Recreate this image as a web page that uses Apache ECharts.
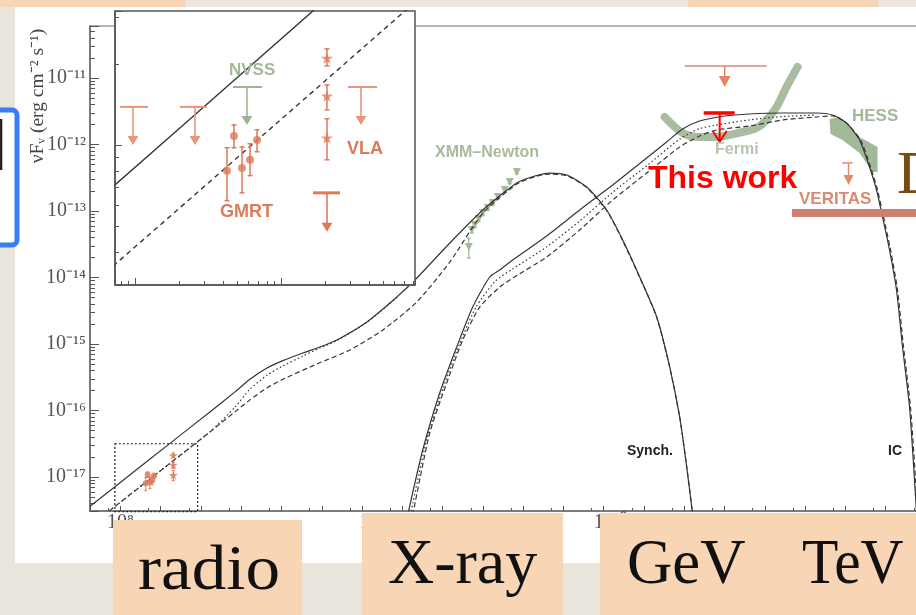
<!DOCTYPE html>
<html>
<head>
<meta charset="utf-8">
<script src="https://cdn.jsdelivr.net/npm/echarts@6/dist/echarts.min.js"></script>
<style>
  html, body { margin: 0; padding: 0; background: #e9e5dc; }
  #wrap { position: relative; width: 916px; height: 615px; overflow: hidden; background: #e9e5dc; }
  #panel { position: absolute; left: 15px; top: 7px; width: 901px; height: 556px; background: #ffffff; }
  #chart { position: absolute; left: 0; top: 0; width: 916px; height: 615px; }
</style>
</head>
<body>
<div id="wrap"><div id="panel"></div><div id="chart"></div></div>
<script>
// All coordinates are log10 values: x = log10(nu / Hz), y = log10(nuFnu / erg cm^-2 s^-1)

// axis ranges
const mainNuRange   = [7.246, 28.0];
const mainFluxRange = [-17.511, -10.218];
const zoomNuRange   = [7.863, 9.918];
const zoomFluxRange = [-17.52, -16.50];

// tick labels
const nuLabelDecades   = [8, 14, 20, 26];
const fluxLabelDecades = [-17, -16, -15, -14, -13, -12, -11];

// model curves: synchrotron and inverse-Compton components of three models
const synchSolid = [[7.246,-17.441],[8.241,-16.967],[9.231,-16.494],[10.223,-16.021],[10.844,-15.72],[11.216,-15.53],[11.638,-15.36],[12.035,-15.25],[12.531,-15.135],[12.953,-15.045],[13.375,-14.94],[14.119,-14.669],[14.864,-14.293],[15.36,-14.008],[16.179,-13.481],[16.998,-12.985],[17.841,-12.579],[18.288,-12.474],[18.66,-12.429],[19.082,-12.459],[19.578,-12.639],[20.074,-12.985],[20.471,-13.436],[20.893,-13.992],[21.315,-14.594],[21.638,-15.346],[21.886,-16.098],[22.06,-16.85],[22.209,-17.571]];
const synchDashed = [[7.246,-17.736],[8.241,-17.264],[9.231,-16.794],[10.223,-16.322],[10.844,-16.02],[11.216,-15.84],[11.638,-15.66],[12.035,-15.53],[12.878,-15.301],[13.697,-15.09],[14.516,-14.789],[15.36,-14.368],[16.179,-13.767],[16.998,-13.03],[17.841,-12.594],[18.288,-12.484],[18.66,-12.444],[19.082,-12.47],[19.578,-12.65],[20.074,-12.995],[20.471,-13.446],[20.893,-14.0],[21.315,-14.6],[21.638,-15.35],[21.886,-16.1],[22.06,-16.85],[22.209,-17.571]];
const synchDotted = [[7.246,-17.736],[8.241,-17.264],[9.231,-16.794],[10.223,-16.322],[10.844,-15.95],[11.216,-15.68],[11.638,-15.47],[12.035,-15.33],[12.531,-15.18],[12.953,-15.06],[13.375,-14.95],[14.119,-14.675],[14.864,-14.30]];
const icSolid = [[15.134,-17.571],[15.506,-16.594],[15.928,-15.737],[16.35,-15.045],[16.747,-14.444],[17.169,-13.992],[17.417,-13.887],[17.739,-13.737],[18.583,-13.376],[19.402,-12.985],[20.221,-12.609],[21.065,-12.203],[21.561,-11.962],[21.958,-11.767],[22.38,-11.647],[23.0,-11.571],[23.62,-11.541],[24.439,-11.526],[25.283,-11.526],[25.68,-11.556],[26.027,-11.677],[26.35,-11.932],[26.598,-12.338],[26.772,-12.684],[26.921,-13.09],[27.094,-13.586],[27.268,-14.188],[27.417,-15.045],[27.591,-15.947],[27.715,-17.045],[27.789,-17.797]];
const icDashed = [[15.258,-17.571],[15.68,-16.338],[16.102,-15.586],[16.499,-14.94],[16.921,-14.444],[17.417,-14.143],[17.739,-14.008],[18.583,-13.692],[19.402,-13.286],[20.221,-12.835],[21.065,-12.429],[21.884,-12.038],[22.38,-11.872],[22.801,-11.782],[23.62,-11.722],[24.439,-11.632],[25.283,-11.586],[25.68,-11.571],[26.027,-11.677],[26.375,-11.932],[26.623,-12.338],[26.797,-12.684],[26.945,-13.09],[27.119,-13.586],[27.293,-14.188],[27.442,-15.045],[27.615,-15.947],[27.74,-17.045],[27.814,-17.797]];
const icDotted = [[15.2,-17.571],[15.6,-16.45],[16.02,-15.65],[16.42,-15.0],[16.83,-14.444],[17.3,-14.06],[17.739,-13.87],[18.583,-13.54],[19.402,-13.15],[20.221,-12.72],[21.065,-12.32],[21.884,-11.92],[22.38,-11.76],[23.62,-11.63],[24.439,-11.58],[25.283,-11.556]];

// XMM-Newton spectrum: [log nu, log nuFnu, low, high]
const xmmPoints = [[17.841,-12.414,-12.44,-12.39],[17.667,-12.564,-12.59,-12.54],[17.543,-12.684,-12.71,-12.66],[17.37,-12.789,-12.82,-12.76],[17.246,-12.88,-12.91,-12.85],[17.122,-12.955,-12.99,-12.92],[16.998,-13.03,-13.07,-12.99],[16.898,-13.12,-13.16,-13.08],[16.799,-13.211,-13.25,-13.17],[16.724,-13.286,-13.33,-13.24],[16.65,-13.541,-13.707,-13.406]];

// Fermi-LAT butterfly (lower envelope) and H.E.S.S. band
const fermiBand = [[21.512,-11.586],[21.96,-11.827],[22.38,-11.887],[22.801,-11.887],[23.447,-11.812],[23.794,-11.752],[24.042,-11.632],[24.29,-11.436],[24.538,-11.135],[24.811,-10.835]];
const hessBand = [[25.605,-11.617],[25.853,-11.586],[26.35,-11.887],[26.797,-12.038],[26.797,-12.414],[26.672,-12.414],[26.35,-12.128],[25.928,-11.932],[25.63,-11.842]];

// upper limits: [log nu centre, log nuFnu, log nu left, log nu right]
const gevUpperLimit      = [[23.003,-10.82,22.01,24.045]];
const thisWorkUpperLimit = [[22.878,-11.526,22.481,23.251]];
const veritasUpperLimit  = [[26.077,-12.278,25.918,26.179]];
const radioUpperLimits   = [[7.986,-16.857,7.897,8.089],[8.411,-16.857,8.308,8.493],[9.548,-16.783,9.459,9.658]];
const vlaDeepUpperLimit  = [[9.315,-17.177,9.219,9.404]];
const nvssUpperLimit     = [[8.767,-16.783,8.671,8.87]];

// radio detections: [log nu, log nuFnu, low, high]
const gmrtPoints = [[8.63,-17.095,-17.206,-17.009],[8.678,-16.965,-17.009,-16.924],[8.733,-17.084,-17.177,-17.006],[8.788,-17.054,-17.113,-16.994],[8.836,-16.98,-17.024,-16.942]];
const vlaPoints  = [[9.315,-16.675,-16.704,-16.641],[9.315,-16.816,-16.868,-16.775],[9.315,-16.972,-17.054,-16.901]];

// ---------------------------------------------------------------------------
const SERIF = '"Liberation Serif", "Times New Roman", serif';
const SANS = '"Liberation Sans", Arial, sans-serif';
const INK = '#353535';
const SALMON = '#dc7a59';
const SALMON_LIGHT = '#e6967b';
const SAGE = '#9db592';
const PEACH = '#f8d5b5';
const STAR = 'path://M50,0 L61,35 L98,35 L68,57 L79,91 L50,70 L21,91 L32,57 L2,35 L39,35 Z';

const SUP = {'0':'⁰','1':'¹','2':'²','3':'³','4':'⁴','5':'⁵','6':'⁶','7':'⁷','8':'⁸','9':'⁹','-':'⁻'};
const pow10Label = n => '10' + String(n).split('').map(c => SUP[c]).join('');
const isWhole = v => Math.abs(v - Math.round(v)) < 1e-6;
const L5 = Math.log10(5);

function upperLimit(o) {
  return function (params, api) {
    const c = api.coord([api.value(0), api.value(1)]);
    const l = api.coord([api.value(2), api.value(1)]);
    const r = api.coord([api.value(3), api.value(1)]);
    const tip = c[1] + o.len;
    const kids = [
      { type: 'line', shape: { x1: l[0], y1: c[1], x2: r[0], y2: c[1] }, style: { stroke: o.color, lineWidth: o.bar } },
      { type: 'line', shape: { x1: c[0], y1: c[1], x2: c[0], y2: o.open ? tip : tip - o.headH + 1 }, style: { stroke: o.color, lineWidth: o.stem } }
    ];
    if (o.open) {
      kids.push({ type: 'polyline', shape: { points: [[c[0] - o.headW / 2, tip - o.headH], [c[0], tip], [c[0] + o.headW / 2, tip - o.headH]] }, style: { stroke: o.color, lineWidth: o.stem, fill: null } });
    } else {
      kids.push({ type: 'polygon', shape: { points: [[c[0] - o.headW / 2, tip - o.headH], [c[0] + o.headW / 2, tip - o.headH], [c[0], tip]] }, style: { fill: o.color } });
    }
    return { type: 'group', children: kids };
  };
}

function errorBars(color, cap, width) {
  return function (params, api) {
    const lo = api.coord([api.value(0), api.value(2)]);
    const hi = api.coord([api.value(0), api.value(3)]);
    return { type: 'group', children: [
      { type: 'line', shape: { x1: lo[0], y1: lo[1], x2: hi[0], y2: hi[1] }, style: { stroke: color, lineWidth: width } },
      { type: 'line', shape: { x1: lo[0] - cap, y1: lo[1], x2: lo[0] + cap, y2: lo[1] }, style: { stroke: color, lineWidth: width } },
      { type: 'line', shape: { x1: hi[0] - cap, y1: hi[1], x2: hi[0] + cap, y2: hi[1] }, style: { stroke: color, lineWidth: width } }
    ] };
  };
}

function curve(data, type, grid, z) {
  return {
    type: 'line', xAxisIndex: grid, yAxisIndex: grid, data: data, symbol: 'none', z: z,
    smooth: grid ? false : 0.22, clip: true, silent: true,
    lineStyle: { color: INK, width: grid ? 1.4 : 1.2, type: type }
  };
}

function custom(grid, data, renderItem, z) {
  return { type: 'custom', xAxisIndex: grid, yAxisIndex: grid, data: data, renderItem: renderItem, z: z, silent: true, clip: false };
}

// per-label padding so the decade labels sit where the original figure put them
const nuLabelRich = {
  d8:  { fontFamily: 'Liberation Serif', fontSize: 20, color: '#555' },
  d14: { fontFamily: 'Liberation Serif', fontSize: 20, color: '#555', padding: [0, 0, 0, 28] },
  d20: { fontFamily: 'Liberation Serif', fontSize: 20, color: '#555', padding: [0, 0, 0, 13] },
  d26: { fontFamily: 'Liberation Serif', fontSize: 20, color: '#555' }
};

const axisLineStyle = { color: '#6b6b6b', width: 1.5 };
const tickStyle = { color: '#555', width: 1 };

const xAxes = [
  { // main frequency axis
    type: 'value', gridIndex: 0, min: mainNuRange[0], max: mainNuRange[1], minInterval: 1, maxInterval: 1,
    axisLine: { show: true, onZero: false, lineStyle: axisLineStyle },
    axisTick: { show: true, inside: true, length: 5, lineStyle: tickStyle },
    axisLabel: { margin: 2, fontFamily: SERIF, fontSize: 20, color: '#555', rich: nuLabelRich, hideOverlap: false,
      formatter: v => {
        const n = Math.round(v);
        return (isWhole(v) && nuLabelDecades.includes(n)) ? '{d' + n + '|' + pow10Label(n) + '}' : '';
      } },
    splitLine: { show: false }
  },
  { // zoomed radio axis
    type: 'value', gridIndex: 1, min: zoomNuRange[0], max: zoomNuRange[1], minInterval: 1, maxInterval: 1, z: 12,
    axisLine: { show: true, onZero: false, lineStyle: { color: '#555', width: 1.5 } },
    axisTick: { show: true, inside: true, length: 7, lineStyle: tickStyle },
    axisLabel: { show: false }, splitLine: { show: false }
  },
  { // half-decade ticks of the main axis
    type: 'value', gridIndex: 0, position: 'bottom', min: mainNuRange[0] - L5, max: mainNuRange[1] - L5, minInterval: 1, maxInterval: 1,
    axisLine: { show: false }, axisLabel: { show: false }, splitLine: { show: false },
    axisTick: { show: true, inside: true, length: 3, lineStyle: tickStyle }
  },
  { // logarithmic minor ticks of the zoomed axis
    type: 'log', logBase: 10, gridIndex: 1, position: 'bottom', min: Math.pow(10, zoomNuRange[0]), max: Math.pow(10, zoomNuRange[1]), z: 12,
    axisLine: { show: false }, axisLabel: { show: false }, splitLine: { show: false },
    axisTick: { show: false, inside: true }, minorTick: { show: true, splitNumber: 9, length: 4, lineStyle: tickStyle }
  }
];

const yAxes = [
  { // main flux axis
    type: 'value', gridIndex: 0, min: mainFluxRange[0], max: mainFluxRange[1], minInterval: 1, maxInterval: 1,
    axisLine: { show: true, onZero: false, lineStyle: axisLineStyle },
    axisTick: { show: true, inside: true, length: 9, lineStyle: tickStyle },
    axisLabel: { margin: 4, fontFamily: SERIF, fontSize: 20, color: '#555', hideOverlap: false,
      formatter: v => (isWhole(v) && fluxLabelDecades.includes(Math.round(v))) ? pow10Label(Math.round(v)) : '' },
    splitLine: { show: false }
  },
  { // zoomed flux axis
    type: 'value', gridIndex: 1, min: zoomFluxRange[0], max: zoomFluxRange[1], minInterval: 1, maxInterval: 1, z: 12,
    axisLine: { show: true, onZero: false, lineStyle: { color: '#555', width: 1.5 } },
    axisTick: { show: true, inside: true, length: 7, lineStyle: tickStyle },
    axisLabel: { show: false }, splitLine: { show: false }
  },
  { // logarithmic minor ticks of the main flux axis
    type: 'log', logBase: 10, gridIndex: 0, position: 'left', min: Math.pow(10, mainFluxRange[0]), max: Math.pow(10, mainFluxRange[1]),
    axisLine: { show: false }, axisLabel: { show: false }, splitLine: { show: false },
    axisTick: { show: false, inside: true }, minorTick: { show: true, splitNumber: 9, length: 5, lineStyle: tickStyle }
  },
  { // logarithmic minor ticks of the zoomed flux axis
    type: 'log', logBase: 10, gridIndex: 1, position: 'left', min: Math.pow(10, zoomFluxRange[0]), max: Math.pow(10, zoomFluxRange[1]), z: 12,
    axisLine: { show: false }, axisLabel: { show: false }, splitLine: { show: false },
    axisTick: { show: false, inside: true }, minorTick: { show: true, splitNumber: 9, length: 4, lineStyle: tickStyle }
  }
];

const series = [
  // data bands behind the model curves
  { type: 'line', xAxisIndex: 0, yAxisIndex: 0, data: fermiBand, symbol: 'none', z: 1, silent: true, smooth: 0.3,
    lineStyle: { color: '#a4b89b', width: 8, cap: 'round', join: 'round', opacity: 0.95 } },
  custom(0, hessBand, function (params, api) {
    if (params.dataIndex !== 0) return null;
    return { type: 'polygon', shape: { points: hessBand.map(p => api.coord(p)) }, style: { fill: SAGE, opacity: 0.95 } };
  }, 1),

  // model curves, main panel
  curve(synchSolid, 'solid', 0, 3),
  curve(synchDashed, [5, 3], 0, 3),
  curve(synchDotted, [1.5, 2.5], 0, 3),
  curve(icSolid, 'solid', 0, 3),
  curve(icDashed, [5, 3], 0, 3),
  curve(icDotted, [1.5, 2.5], 0, 3),

  // region shown in the zoomed panel
  custom(0, [[zoomNuRange[0], zoomFluxRange[0], zoomNuRange[1], zoomFluxRange[1]]], function (params, api) {
    const a = api.coord([api.value(0), api.value(1)]);
    const b = api.coord([api.value(2), api.value(3)]);
    return { type: 'rect', shape: { x: a[0], y: b[1], width: b[0] - a[0], height: a[1] - b[1] },
      style: { fill: null, stroke: '#222', lineWidth: 1.2, lineDash: [2, 2] } };
  }, 3),

  // X-ray spectrum
  custom(0, xmmPoints, errorBars(SAGE, 2, 1.2), 2),
  { type: 'scatter', xAxisIndex: 0, yAxisIndex: 0, data: xmmPoints.map(p => [p[0], p[1]]), symbol: 'triangle', symbolRotate: 180,
    symbolSize: 8, z: 2, silent: true, itemStyle: { color: SAGE, opacity: 0.9 } },

  // gamma-ray upper limits
  custom(0, gevUpperLimit, upperLimit({ color: '#e0876a', bar: 1.5, stem: 1.5, len: 21, headW: 12, headH: 11 }), 4),
  custom(0, thisWorkUpperLimit, upperLimit({ color: '#ff0000', bar: 3.5, stem: 2, len: 29, headW: 14, headH: 11, open: true }), 6),
  custom(0, veritasUpperLimit, upperLimit({ color: '#e08a6e', bar: 1.5, stem: 1.5, len: 22, headW: 10, headH: 10 }), 4),

  // radio points, main panel
  custom(0, gmrtPoints, errorBars(SALMON, 1.5, 1), 4),
  custom(0, vlaPoints, errorBars(SALMON, 1.5, 1), 4),
  { type: 'scatter', xAxisIndex: 0, yAxisIndex: 0, data: gmrtPoints.map(p => [p[0], p[1]]), symbol: 'circle', symbolSize: 6,
    z: 4, silent: true, itemStyle: { color: SALMON, opacity: 0.85 } },
  { type: 'scatter', xAxisIndex: 0, yAxisIndex: 0, data: vlaPoints.map(p => [p[0], p[1]]), symbol: STAR, symbolSize: 9,
    z: 4, silent: true, itemStyle: { color: SALMON, opacity: 0.85 } },

  // zoomed panel
  curve(synchSolid, 'solid', 1, 10),
  curve(synchDashed, [5, 4], 1, 10),
  custom(1, radioUpperLimits, upperLimit({ color: SALMON_LIGHT, bar: 2, stem: 1.6, len: 38, headW: 11, headH: 9 }), 11),
  custom(1, vlaDeepUpperLimit, upperLimit({ color: SALMON, bar: 3, stem: 1.6, len: 39, headW: 11, headH: 9 }), 11),
  custom(1, nvssUpperLimit, upperLimit({ color: SAGE, bar: 2, stem: 1.6, len: 38, headW: 11, headH: 9 }), 11),
  custom(1, gmrtPoints, errorBars(SALMON, 2.5, 1.5), 11),
  custom(1, vlaPoints, errorBars(SALMON, 2.5, 1.5), 11),
  { type: 'scatter', xAxisIndex: 1, yAxisIndex: 1, data: gmrtPoints.map(p => [p[0], p[1]]), symbol: 'circle', symbolSize: 8,
    z: 11, silent: true, itemStyle: { color: SALMON } },
  { type: 'scatter', xAxisIndex: 1, yAxisIndex: 1, data: vlaPoints.map(p => [p[0], p[1]]), symbol: STAR, symbolSize: 12,
    z: 11, silent: true, itemStyle: { color: SALMON } }
];

function text(str, x, y, font, color, extra) {
  return Object.assign({
    type: 'text', x: x, y: y, z: 20, silent: true,
    style: { text: str, font: font, fill: color, textAlign: 'left', textVerticalAlign: 'middle', align: 'left', verticalAlign: 'middle' }
  }, extra || {});
}
function box(x, y, w, h, color, z) {
  return { type: 'rect', z: z || 100, silent: true, shape: { x: x, y: y, width: w, height: h }, style: { fill: color } };
}

const titleFont = '19.5px ' + SERIF;
const graphics = [
  // axis title
  text('νFᵥ (erg cm⁻² s⁻¹)', 38, 96, titleFont, '#444', { rotation: Math.PI / 2, style: { text: 'νFᵥ (erg cm⁻² s⁻¹)', font: titleFont, fill: '#444', textAlign: 'center', textVerticalAlign: 'middle', align: 'center', verticalAlign: 'middle' } }),

  // instrument and component labels
  text('XMM–Newton', 435, 153, 'bold 16px ' + SANS, '#a8bb9e'),
  text('Fermi', 715, 150, 'bold 16px ' + SANS, '#b6c5ae'),
  text('HESS', 852, 116, 'bold 17px ' + SANS, '#a3b799'),
  text('VERITAS', 799, 199, 'bold 17px ' + SANS, '#d88a72'),
  text('This work', 648, 179, 'bold 32px ' + SANS, '#ff0000'),
  text('Synch.', 627, 451, 'bold 14px ' + SANS, '#222'),
  text('IC', 888, 451, 'bold 14px ' + SANS, '#222'),
  Object.assign(text('NVSS', 229, 70, 'bold 17px ' + SANS, '#a3b799'), { z: 30 }),
  Object.assign(text('GMRT', 220, 212, 'bold 18px ' + SANS, SALMON), { z: 30 }),
  Object.assign(text('VLA', 347, 149, 'bold 18px ' + SANS, SALMON), { z: 30 }),

  // slide decorations
  box(792, 209, 124, 8, '#cf7f70', 25),
  box(0, 0, 916, 7, '#ebe7df', 100),
  box(0, 0, 186, 7, PEACH, 101),
  box(688, 0, 190, 7, PEACH, 101),
  box(113, 520, 189, 95, PEACH, 100),
  box(362, 513, 201, 102, PEACH, 100),
  box(600, 513, 316, 102, PEACH, 100),
  text('radio', 138, 572, '64px ' + SERIF, '#111', { z: 110, scaleX: 1.08 }),
  text('X-ray', 388, 566, '64px ' + SERIF, '#111', { z: 110 }),
  text('GeV', 627, 566, '64px ' + SERIF, '#111', { z: 110, scaleX: 0.98 }),
  text('TeV', 802, 566, '64px ' + SERIF, '#111', { z: 110, scaleX: 0.93 }),
  { type: 'rect', z: 100, silent: true, shape: { x: -8, y: 110, width: 25, height: 135, r: 5 }, style: { fill: '#ffffff', stroke: '#3b7cf5', lineWidth: 5 } },
  Object.assign(text(']', 7, 146, '62px ' + SERIF, '#222'), { z: 102, style: { text: ']', font: '62px ' + SERIF, fill: '#222', textAlign: 'right', textVerticalAlign: 'middle', align: 'right', verticalAlign: 'middle' } }),
  text('D', 897, 177, '62px ' + SERIF, '#7a4a14', { z: 30 })
];

const chart = echarts.init(document.getElementById('chart'), null, { renderer: 'canvas' });
chart.setOption({
  animation: false,
  backgroundColor: 'transparent',
  grid: [
    { left: 90, top: 26, width: 836, height: 485, show: true, borderColor: '#6b6b6b', borderWidth: 1.2, backgroundColor: 'transparent', z: 0, containLabel: false, outerBoundsMode: 'none' },
    { left: 115, top: 11, width: 300, height: 274, show: true, borderColor: '#555', borderWidth: 1.5, backgroundColor: '#ffffff', z: 5, containLabel: false, outerBoundsMode: 'none' }
  ],
  xAxis: xAxes,
  yAxis: yAxes,
  series: series,
  graphic: graphics
});
</script>
</body>
</html>
